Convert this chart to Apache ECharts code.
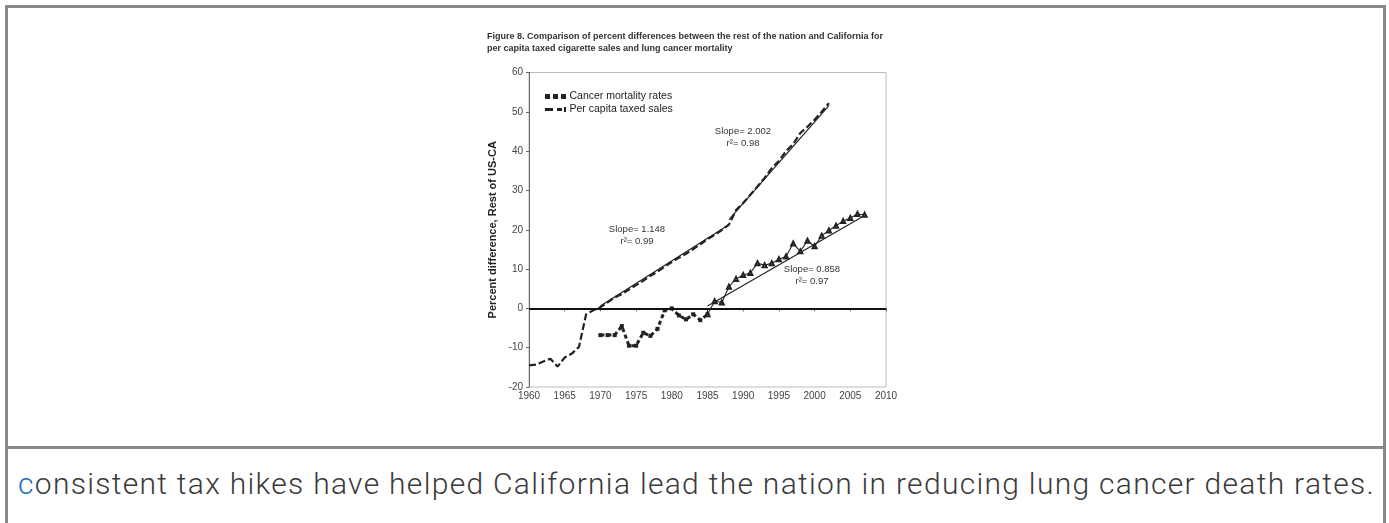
<!DOCTYPE html>
<html>
<head>
<meta charset="utf-8">
<script src="https://cdn.jsdelivr.net/npm/echarts@6/dist/echarts.min.js"></script>
<style>
  html, body { margin:0; padding:0; background:#fff; width:1389px; height:523px; overflow:hidden; }
  #frame { position:absolute; left:5px; top:5px; width:1375px; height:600px; border:3px solid #888; box-sizing:content-box; }
  #divider { position:absolute; left:5px; top:446px; width:1381px; height:3px; background:#888; }
  #caption { position:absolute; left:18px; top:466px; font-family:Roboto, "Liberation Sans", sans-serif; font-weight:300; font-size:30px; letter-spacing:1.3px; line-height:36px; color:#3a3a3a; white-space:nowrap; }
  #caption span { color:#1f6db5; }
  #chart { position:absolute; left:0; top:0; width:1389px; height:523px; z-index:2; }
</style>
</head>
<body>
<div id="frame"></div>
<div id="divider"></div>
<div id="caption"><span>c</span>onsistent tax hikes have helped California lead the nation in reducing lung cancer death rates.</div>
<div id="chart"></div>
<script>
// ---- data ----
const titleLines = [
  'Figure 8. Comparison of percent differences between the rest of the nation and California for',
  'per capita taxed cigarette sales and lung cancer mortality'
];
const yAxisTitle = 'Percent difference, Rest of US-CA';
const xTicks = { min: 1960, max: 2010, interval: 5 };
const yTicks = { min: -20, max: 60, interval: 10 };

const salesYears = [1960,1961,1962,1963,1964,1965,1966,1967,1968,1969,1970,
  1971,1972,1973,1974,1975,1976,1977,1978,1979,1980,1981,1982,1983,1984,1985,1986,1987,1988,
  1989,1990,1991,1992,1993,1994,1995,1996,1997,1998,1999,2000,2001,2002];
const salesValues = [-14.5,-14.3,-13.5,-12.8,-14.8,-12.5,-11.5,-9.8,-1.5,-0.5,0.3,
  1.5,2.8,3.6,4.8,5.9,7.0,8.3,9.3,10.6,11.8,12.9,13.9,15.1,16.3,17.6,18.7,19.9,21.3,
  25.0,26.8,28.9,31.0,33.2,35.7,37.5,40.0,41.8,44.6,46.2,48.0,50.0,52.2];

const mortYears = [1970,1971,1972,1973,1974,1975,1976,1977,1978,1979,1980,1981,1982,1983,1984,1985,
  1986,1987,1988,1989,1990,1991,1992,1993,1994,1995,1996,1997,1998,1999,2000,2001,2002,2003,2004,2005,2006,2007];
const mortValues = [-6.8,-6.8,-6.8,-4.5,-9.5,-9.5,-6.2,-7.0,-5.2,-0.5,0.0,-1.8,-2.8,-1.5,-3.0,-1.5,
  1.8,1.5,5.5,7.5,8.5,9.0,11.5,11.0,11.5,12.5,13.2,16.5,14.5,17.2,15.8,18.5,19.8,21.0,22.2,23.0,24.0,23.8];
const mortSplitYear = 1985;

// fitted trend lines: [startYear, startValue, endYear, endValue]
const fitSales1 = [1970, 0.6, 1988, 21.3];
const fitSales2 = [1988, 22.6, 2002, 51.6];
const fitMort   = [1985, 0.6, 2007, 23.6];

const fitLabels = [
  ['Slope= 2.002', 'r\u00B2= 0.98'],
  ['Slope= 1.148', 'r\u00B2= 0.99'],
  ['Slope= 0.858', 'r\u00B2= 0.97']
];
const legendNames = ['Cancer mortality rates', 'Per capita taxed sales'];

// ---- build ----
const pairs = (xs, ys) => xs.map((x, i) => [x, ys[i]]);
const salesData = pairs(salesYears, salesValues);
const mortAll = pairs(mortYears, mortValues);
const mortA = mortAll.filter(d => d[0] <= mortSplitYear);
const mortB = mortAll.filter(d => d[0] >= mortSplitYear);
const fitSeries = (f) => ({
  type: 'line', silent: true, data: [[f[0], f[1]], [f[2], f[3]]],
  symbol: 'none', lineStyle: { color: '#222', width: 1.2, type: 'solid' }, z: 3
});

const ink = '#222';
const font = '"Liberation Sans", Arial, sans-serif';
const chart = echarts.init(document.getElementById('chart'), null, { renderer: 'canvas' });

const annot = (lines, cx, y) => ({
  type: 'text', x: cx, y: y,
  style: { x: 0, y: 0, text: lines.join('\n'), fill: '#333', font: '9.5px ' + font, lineHeight: 12, align: 'center', verticalAlign: 'top' }
});

chart.setOption({
  animation: false,
  backgroundColor: 'transparent',
  title: {
    text: titleLines.join('\n'), left: 482, top: 26,
    textStyle: { fontFamily: font, fontSize: 9, fontWeight: 'bold', color: '#333', lineHeight: 12 }
  },
  grid: { left: 529, right: 1389 - 886, top: 72.5, bottom: 523 - 387, show: true, borderColor: '#bbb', borderWidth: 1 },
  legend: {
    left: 540, top: 86, orient: 'vertical', itemGap: 2, itemWidth: 22, itemHeight: 5,
    textStyle: { fontFamily: font, fontSize: 10.5, color: '#222', padding: [0, 0, 0, -2] },
    selectedMode: false,
    data: [
      { name: legendNames[0], icon: 'path://M0,0h5v5h-5z M8,0h5v5h-5z M16,0h5v5h-5z' },
      { name: legendNames[1], icon: 'path://M0,1h8v3h-8z M12,1h5v3h-5z M19,0h2v5h-2z' }
    ],
    itemStyle: { color: ink }
  },
  xAxis: {
    type: 'value', min: xTicks.min, max: xTicks.max, interval: xTicks.interval,
    axisLine: { show: true, lineStyle: { color: '#666', width: 1 } },
    axisTick: { show: true, length: 3, lineStyle: { color: '#666' } },
    axisLabel: { color: '#444', fontFamily: font, fontSize: 10, margin: 4, formatter: v => String(v) },
    splitLine: { show: false }
  },
  yAxis: {
    type: 'value', min: yTicks.min, max: yTicks.max, interval: yTicks.interval,
    name: yAxisTitle, nameLocation: 'middle', nameGap: 31,
    nameTextStyle: { fontFamily: font, fontSize: 11, fontWeight: 'bold', color: '#222' },
    axisLine: { show: true, lineStyle: { color: '#666', width: 1 } },
    axisTick: { show: true, length: 3, lineStyle: { color: '#666' } },
    axisLabel: { color: '#444', fontFamily: font, fontSize: 10, margin: 6 },
    splitLine: { show: false }
  },
  series: [
    {
      name: legendNames[1], type: 'line', data: salesData, symbol: 'none',
      lineStyle: { color: ink, width: 2.2, type: [7, 3] }, itemStyle: { color: ink }, z: 4,
      markLine: {
        silent: true, symbol: 'none', label: { show: false },
        lineStyle: { color: '#111', width: 2, type: 'solid' },
        data: [{ yAxis: 0 }]
      }
    },
    {
      name: legendNames[0], type: 'line', data: mortA, symbol: 'rect', symbolSize: 4,
      lineStyle: { color: ink, width: 3, type: [4, 3] }, itemStyle: { color: ink }, z: 4
    },
    {
      name: legendNames[0] + ' (1985 on)', type: 'line', data: mortB, symbol: 'emptyTriangle', symbolSize: 4,
      lineStyle: { color: ink, width: 1.1 }, itemStyle: { color: ink, borderColor: ink, borderWidth: 0.8 }, z: 4
    },
    fitSeries(fitSales1),
    fitSeries(fitSales2),
    fitSeries(fitMort)
  ],
  graphic: [
    annot(fitLabels[0], 743, 125),
    annot(fitLabels[1], 637, 223),
    annot(fitLabels[2], 812, 263)
  ]
});
</script>
</body>
</html>
